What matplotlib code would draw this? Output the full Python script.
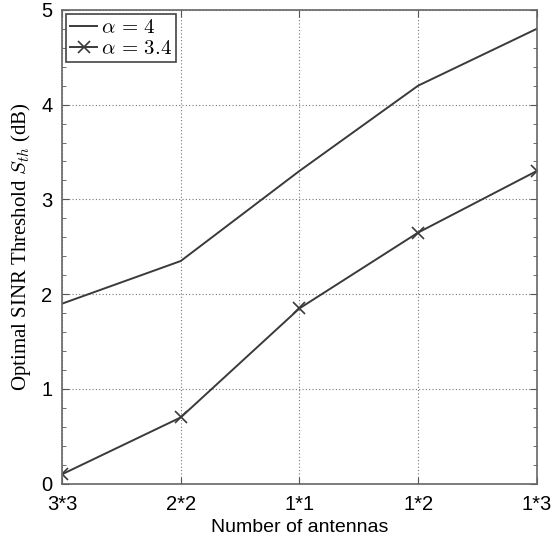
import numpy as np
import matplotlib
matplotlib.use('Agg')
import matplotlib.pyplot as plt
from matplotlib.ticker import MultipleLocator

# %%
# values
antennas = ['3*3', '2*2', '1*1', '1*2', '1*3']
sth_alpha4 = [1.9, 2.35, 3.3, 4.2, 4.8]
sth_alpha34 = [0.1, 0.7, 1.85, 2.65, 3.3]

plt.rcParams['mathtext.fontset'] = 'cm'
plt.rcParams['font.family'] = 'Liberation Sans'

# %%
fig = plt.figure(figsize=(5.54, 5.46), dpi=100)
ax = fig.add_axes([0.112, 0.114, 0.857, 0.868])

x = np.arange(len(antennas))
line_col = '#3a3a3a'
ax.plot(x, sth_alpha4, '-', color=line_col, lw=1.4, label=r'$\alpha\,=\,4$')
ax.plot(x, sth_alpha34, '-x', color=line_col, lw=1.4, ms=8, mew=1.2,
        label=r'$\alpha\,=\,3.4$')

ax.set_xlim(0, len(antennas) - 1)
ax.set_ylim(0, 5)
ax.set_xticks(x)
ax.set_xticklabels(antennas)
ax.yaxis.set_minor_locator(MultipleLocator(0.2))
ax.tick_params(which='both', direction='in', top=True, right=True,
               labelsize=14.5, colors='#555555', labelcolor='black')
ax.tick_params(which='major', length=5)
ax.tick_params(which='minor', length=3)
ax.tick_params(axis='x', pad=8)
ax.tick_params(axis='y', pad=7)
for s in ax.spines.values():
    s.set_color('#666666')
    s.set_linewidth(1.2)

ax.grid(True, linestyle=(0, (1, 2)), color='#777777', linewidth=0.8)

ax.set_xlabel('Number of antennas', fontsize=14, labelpad=4)
ax.set_ylabel(r'Optimal SINR Threshold $S_{th}$ (dB)', fontsize=15,
              family='Liberation Serif', labelpad=6)

leg = ax.legend(loc='upper left', fontsize=15, fancybox=False,
                framealpha=1, edgecolor='#444444', borderaxespad=0.2,
                handlelength=1.3, handletextpad=0.15, borderpad=0.2,
                labelspacing=0.1)
leg.get_frame().set_linewidth(1.2)

fig.savefig('out.png', dpi=100)
